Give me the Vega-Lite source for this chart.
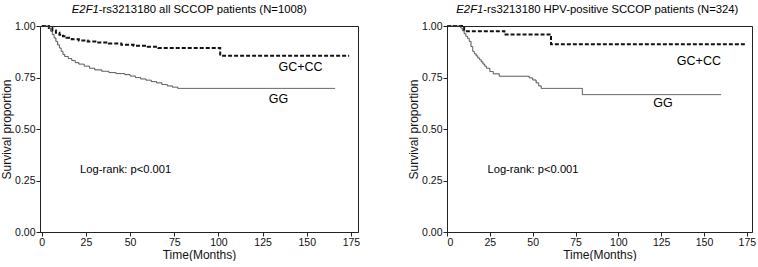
{
  "$schema": "https://vega.github.io/schema/vega-lite/v6.json",
  "padding": {"left": 0, "top": 3, "right": 2, "bottom": 0},
  "spacing": 46,
  "config": {
    "font": "Liberation Sans",
    "view": {"stroke": "#222", "strokeWidth": 1},
    "axis": {"grid": false, "domainColor": "#222", "tickColor": "#222", "labelColor": "#111", "titleColor": "#111", "labelFont": "Liberation Sans", "titleFont": "Liberation Sans", "labelFontSize": 10.5, "titleFontSize": 12, "titleFontWeight": "normal", "tickSize": 4, "labelPadding": 1}
  },
  "datasets": {
    "all": [
      {"group": "GC+CC", "time": 0, "surv": 1},
      {"group": "GC+CC", "time": 3, "surv": 1},
      {"group": "GC+CC", "time": 4, "surv": 0.99},
      {"group": "GC+CC", "time": 6, "surv": 0.978},
      {"group": "GC+CC", "time": 8, "surv": 0.967},
      {"group": "GC+CC", "time": 10, "surv": 0.958},
      {"group": "GC+CC", "time": 12, "surv": 0.95},
      {"group": "GC+CC", "time": 14, "surv": 0.943},
      {"group": "GC+CC", "time": 17, "surv": 0.936},
      {"group": "GC+CC", "time": 21, "surv": 0.93},
      {"group": "GC+CC", "time": 26, "surv": 0.925},
      {"group": "GC+CC", "time": 32, "surv": 0.92},
      {"group": "GC+CC", "time": 38, "surv": 0.915},
      {"group": "GC+CC", "time": 45, "surv": 0.909},
      {"group": "GC+CC", "time": 52, "surv": 0.904},
      {"group": "GC+CC", "time": 60, "surv": 0.899},
      {"group": "GC+CC", "time": 66, "surv": 0.893},
      {"group": "GC+CC", "time": 101, "surv": 0.856},
      {"group": "GC+CC", "time": 174, "surv": 0.856},
      {"group": "GG", "time": 0, "surv": 1},
      {"group": "GG", "time": 3, "surv": 1},
      {"group": "GG", "time": 4, "surv": 0.99},
      {"group": "GG", "time": 5, "surv": 0.975},
      {"group": "GG", "time": 6, "surv": 0.958},
      {"group": "GG", "time": 7, "surv": 0.942},
      {"group": "GG", "time": 8, "surv": 0.925},
      {"group": "GG", "time": 9, "surv": 0.908},
      {"group": "GG", "time": 10, "surv": 0.893},
      {"group": "GG", "time": 11, "surv": 0.877},
      {"group": "GG", "time": 12, "surv": 0.862},
      {"group": "GG", "time": 13, "surv": 0.852},
      {"group": "GG", "time": 15, "surv": 0.842},
      {"group": "GG", "time": 17, "surv": 0.832},
      {"group": "GG", "time": 19, "surv": 0.822},
      {"group": "GG", "time": 21, "surv": 0.815},
      {"group": "GG", "time": 24, "surv": 0.805},
      {"group": "GG", "time": 27, "surv": 0.795},
      {"group": "GG", "time": 30, "surv": 0.787},
      {"group": "GG", "time": 34, "surv": 0.78},
      {"group": "GG", "time": 38, "surv": 0.774},
      {"group": "GG", "time": 42, "surv": 0.769},
      {"group": "GG", "time": 47, "surv": 0.764},
      {"group": "GG", "time": 50, "surv": 0.757},
      {"group": "GG", "time": 53, "surv": 0.75},
      {"group": "GG", "time": 56, "surv": 0.743},
      {"group": "GG", "time": 59, "surv": 0.737},
      {"group": "GG", "time": 62, "surv": 0.73},
      {"group": "GG", "time": 65, "surv": 0.724},
      {"group": "GG", "time": 68, "surv": 0.716},
      {"group": "GG", "time": 71, "surv": 0.709},
      {"group": "GG", "time": 74, "surv": 0.703},
      {"group": "GG", "time": 77, "surv": 0.697},
      {"group": "GG", "time": 166, "surv": 0.697}
    ],
    "hpv": [
      {"group": "GC+CC", "time": 0, "surv": 1},
      {"group": "GC+CC", "time": 10, "surv": 0.975},
      {"group": "GC+CC", "time": 33.5, "surv": 0.959},
      {"group": "GC+CC", "time": 60.7, "surv": 0.912},
      {"group": "GC+CC", "time": 174, "surv": 0.912},
      {"group": "GG", "time": 0, "surv": 1},
      {"group": "GG", "time": 7, "surv": 1},
      {"group": "GG", "time": 8, "surv": 0.99},
      {"group": "GG", "time": 9, "surv": 0.977},
      {"group": "GG", "time": 10, "surv": 0.963},
      {"group": "GG", "time": 11, "surv": 0.95},
      {"group": "GG", "time": 12, "surv": 0.94},
      {"group": "GG", "time": 13, "surv": 0.925},
      {"group": "GG", "time": 14, "surv": 0.9},
      {"group": "GG", "time": 15, "surv": 0.877},
      {"group": "GG", "time": 16, "surv": 0.865},
      {"group": "GG", "time": 17, "surv": 0.855},
      {"group": "GG", "time": 18, "surv": 0.845},
      {"group": "GG", "time": 19, "surv": 0.836},
      {"group": "GG", "time": 20, "surv": 0.826},
      {"group": "GG", "time": 21, "surv": 0.815},
      {"group": "GG", "time": 22, "surv": 0.805},
      {"group": "GG", "time": 23, "surv": 0.795},
      {"group": "GG", "time": 25, "surv": 0.779},
      {"group": "GG", "time": 27, "surv": 0.768},
      {"group": "GG", "time": 30.5, "surv": 0.756},
      {"group": "GG", "time": 48, "surv": 0.748},
      {"group": "GG", "time": 50, "surv": 0.738},
      {"group": "GG", "time": 52, "surv": 0.724},
      {"group": "GG", "time": 53.5, "surv": 0.709},
      {"group": "GG", "time": 55, "surv": 0.697},
      {"group": "GG", "time": 79, "surv": 0.667},
      {"group": "GG", "time": 160, "surv": 0.667}
    ],
    "allLabels": [
      {"label": "GC+CC", "time": 146.5, "surv": 0.803},
      {"label": "GG", "time": 134, "surv": 0.648}
    ],
    "hpvLabels": [
      {"label": "GC+CC", "time": 147, "surv": 0.829},
      {"label": "GG", "time": 126, "surv": 0.624}
    ],
    "allNote": [
      {"label": "Log-rank: p<0.001", "time": 21.7, "surv": 0.299}
    ],
    "hpvNote": [
      {"label": "Log-rank: p<0.001", "time": 23.6, "surv": 0.299}
    ],
    "allTitle": [
      {"gene": "E2F1", "rest": "-rs3213180 all SCCOP patients (N=1008)", "time": 32.3, "surv": 1.078}
    ],
    "hpvTitle": [
      {"gene": "E2F1", "rest": "-rs3213180  HPV-positive  SCCOP patients (N=324)", "time": 21.2, "surv": 1.078}
    ]
  },
  "hconcat": [
    {
      "width": 318,
      "height": 206,
      "layer": [
        {
          "data": {"name": "all"},
          "mark": {"type": "line", "interpolate": "step-after"},
          "encoding": {
            "x": {"field": "time", "type": "quantitative", "scale": {"domain": [-1, 179], "nice": false}, "axis": {"values": [0, 25, 50, 75, 100, 125, 150, 175], "title": "Time(Months)", "titlePadding": 2}},
            "y": {"field": "surv", "type": "quantitative", "scale": {"domain": [0, 1], "nice": false}, "axis": {"values": [0, 0.25, 0.5, 0.75, 1], "format": ".2f", "title": "Survival proportion", "titlePadding": 1}},
            "color": {"field": "group", "type": "nominal", "scale": {"domain": ["GC+CC", "GG"], "range": ["#111111", "#444444"]}, "legend": null},
            "strokeDash": {"field": "group", "type": "nominal", "scale": {"domain": ["GC+CC", "GG"], "range": [[4, 2], [1, 0]]}, "legend": null},
            "strokeWidth": {"field": "group", "type": "nominal", "scale": {"domain": ["GC+CC", "GG"], "range": [2, 1]}, "legend": null}
          }
        },
        {
          "data": {"name": "allLabels"},
          "mark": {"type": "text", "fontSize": 12.5, "color": "#000", "baseline": "middle", "align": "center"},
          "encoding": {
            "x": {"field": "time", "type": "quantitative"},
            "y": {"field": "surv", "type": "quantitative"},
            "text": {"field": "label"}
          }
        },
        {
          "data": {"name": "allNote"},
          "mark": {"type": "text", "fontSize": 11.2, "color": "#000", "baseline": "middle", "align": "left"},
          "encoding": {
            "x": {"field": "time", "type": "quantitative"},
            "y": {"field": "surv", "type": "quantitative"},
            "text": {"field": "label"}
          }
        },
        {
          "data": {"name": "allTitle"},
          "mark": {"type": "text", "fontSize": 11.3, "color": "#000", "baseline": "middle", "align": "right", "fontStyle": "italic"},
          "encoding": {
            "x": {"field": "time", "type": "quantitative"},
            "y": {"field": "surv", "type": "quantitative"},
            "text": {"field": "gene"}
          }
        },
        {
          "data": {"name": "allTitle"},
          "mark": {"type": "text", "fontSize": 11.3, "color": "#000", "baseline": "middle", "align": "left"},
          "encoding": {
            "x": {"field": "time", "type": "quantitative"},
            "y": {"field": "surv", "type": "quantitative"},
            "text": {"field": "rest"}
          }
        }
      ]
    },
    {
      "width": 305,
      "height": 206,
      "layer": [
        {
          "data": {"name": "hpv"},
          "mark": {"type": "line", "interpolate": "step-after"},
          "encoding": {
            "x": {"field": "time", "type": "quantitative", "scale": {"domain": [0, 178], "nice": false}, "axis": {"values": [0, 25, 50, 75, 100, 125, 150, 175], "title": "Time(Months)", "titlePadding": 2}},
            "y": {"field": "surv", "type": "quantitative", "scale": {"domain": [0, 1], "nice": false}, "axis": {"values": [0, 0.25, 0.5, 0.75, 1], "format": ".2f", "title": "Survival proportion", "titlePadding": 1}},
            "color": {"field": "group", "type": "nominal", "scale": {"domain": ["GC+CC", "GG"], "range": ["#111111", "#444444"]}, "legend": null},
            "strokeDash": {"field": "group", "type": "nominal", "scale": {"domain": ["GC+CC", "GG"], "range": [[4, 2], [1, 0]]}, "legend": null},
            "strokeWidth": {"field": "group", "type": "nominal", "scale": {"domain": ["GC+CC", "GG"], "range": [2, 1]}, "legend": null}
          }
        },
        {
          "data": {"name": "hpvLabels"},
          "mark": {"type": "text", "fontSize": 12.5, "color": "#000", "baseline": "middle", "align": "center"},
          "encoding": {
            "x": {"field": "time", "type": "quantitative"},
            "y": {"field": "surv", "type": "quantitative"},
            "text": {"field": "label"}
          }
        },
        {
          "data": {"name": "hpvNote"},
          "mark": {"type": "text", "fontSize": 11.2, "color": "#000", "baseline": "middle", "align": "left"},
          "encoding": {
            "x": {"field": "time", "type": "quantitative"},
            "y": {"field": "surv", "type": "quantitative"},
            "text": {"field": "label"}
          }
        },
        {
          "data": {"name": "hpvTitle"},
          "mark": {"type": "text", "fontSize": 11.3, "color": "#000", "baseline": "middle", "align": "right", "fontStyle": "italic"},
          "encoding": {
            "x": {"field": "time", "type": "quantitative"},
            "y": {"field": "surv", "type": "quantitative"},
            "text": {"field": "gene"}
          }
        },
        {
          "data": {"name": "hpvTitle"},
          "mark": {"type": "text", "fontSize": 11.3, "color": "#000", "baseline": "middle", "align": "left"},
          "encoding": {
            "x": {"field": "time", "type": "quantitative"},
            "y": {"field": "surv", "type": "quantitative"},
            "text": {"field": "rest"}
          }
        }
      ]
    }
  ]
}
